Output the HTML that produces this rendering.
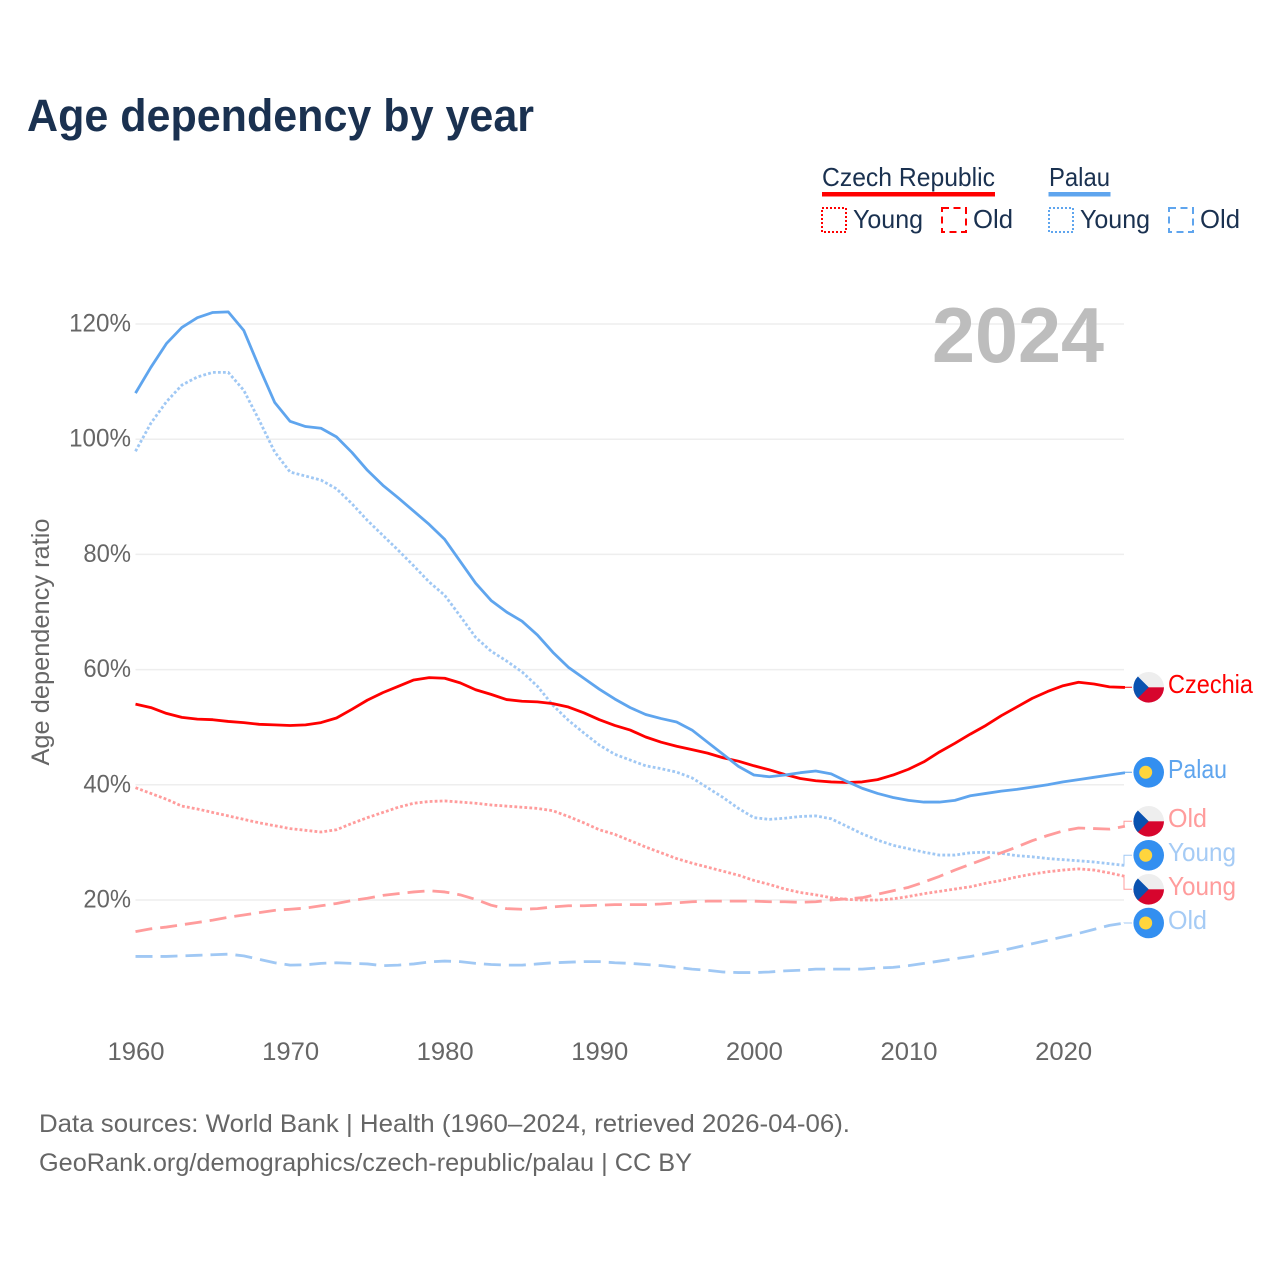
<!DOCTYPE html>
<html lang="en">
<head>
<meta charset="utf-8">
<title>Age dependency by year</title>
<style>
html,body{margin:0;padding:0;background:#fff;}
svg{display:block;font-family:"Liberation Sans",sans-serif;}
</style>
</head>
<body>
<svg id="chart" xmlns="http://www.w3.org/2000/svg" width="1280" height="1280" viewBox="0 0 1280 1280">
  <rect x="0" y="0" width="1280" height="1280" fill="#ffffff"/>
  <text x="27" y="131" font-size="45" font-weight="bold" fill="#1a3150" textLength="507" lengthAdjust="spacingAndGlyphs">Age dependency by year</text>

  <g font-size="26" fill="#1a3150">
    <text x="822" y="186" textLength="173" lengthAdjust="spacingAndGlyphs">Czech Republic</text>
    <rect x="822" y="192" width="173" height="4.5" fill="#ff0000"/>
    <text x="1049" y="186" textLength="61" lengthAdjust="spacingAndGlyphs">Palau</text>
    <rect x="1048.500" y="192" width="62" height="4.500" fill="#5fa5ee"/>

    <rect x="822" y="208" width="24" height="24" fill="none" stroke="#ff0000" stroke-width="2" stroke-dasharray="2 2"/>
    <text x="853" y="228" textLength="70" lengthAdjust="spacingAndGlyphs">Young</text>
    <rect x="942" y="208" width="24" height="24" fill="none" stroke="#ff0000" stroke-width="2" stroke-dasharray="7 4.500"/>
    <text x="973" y="228" textLength="40" lengthAdjust="spacingAndGlyphs">Old</text>

    <rect x="1049" y="208" width="24" height="24" fill="none" stroke="#5fa5ee" stroke-width="2" stroke-dasharray="2 2"/>
    <text x="1080" y="228" textLength="70" lengthAdjust="spacingAndGlyphs">Young</text>
    <rect x="1169" y="208" width="24" height="24" fill="none" stroke="#5fa5ee" stroke-width="2" stroke-dasharray="7 4.500"/>
    <text x="1200" y="228" textLength="40" lengthAdjust="spacingAndGlyphs">Old</text>
  </g>

  <g id="grid"></g>
  <g id="yticks"></g>
  <g id="xticks"></g>

  <text x="932" y="362" font-size="78" font-weight="bold" fill="#bdbdbd" textLength="172" lengthAdjust="spacingAndGlyphs">2024</text>

  <text transform="translate(49,642) rotate(-90)" text-anchor="middle" font-size="25" fill="#666666" textLength="247" lengthAdjust="spacingAndGlyphs">Age dependency ratio</text>

  <g id="series"></g>
  <g id="connectors"></g>

  <defs>
    <clipPath id="flagClip"><circle cx="0" cy="0" r="15.300"/></clipPath>
  </defs>

  <g font-size="26">
    <g transform="translate(1148.700,687.300)" clip-path="url(#flagClip)">
      <rect x="-16" y="-16" width="32" height="16" fill="#eeeeee"/>
      <rect x="-16" y="0" width="32" height="16" fill="#d7052d"/>
      <polygon points="-16,-16 0,0 -16,16" fill="#0a52b0"/>
    </g>
    <text x="1168" y="693" fill="#ff0000" textLength="85" lengthAdjust="spacingAndGlyphs">Czechia</text>

    <g>
      <circle cx="1148.700" cy="772.300" r="15.300" fill="#338ff0"/>
      <circle cx="1145.700" cy="772.300" r="6.500" fill="#ffd53d"/>
    </g>
    <text x="1168" y="778" fill="#5fa5ee" textLength="59" lengthAdjust="spacingAndGlyphs">Palau</text>

    <g transform="translate(1148.700,821.300)" clip-path="url(#flagClip)">
      <rect x="-16" y="-16" width="32" height="16" fill="#eeeeee"/>
      <rect x="-16" y="0" width="32" height="16" fill="#d7052d"/>
      <polygon points="-16,-16 0,0 -16,16" fill="#0a52b0"/>
    </g>
    <text x="1168" y="827" fill="#ff9c9c" textLength="39" lengthAdjust="spacingAndGlyphs">Old</text>

    <g>
      <circle cx="1148.700" cy="855.300" r="15.300" fill="#338ff0"/>
      <circle cx="1145.700" cy="855.300" r="6.500" fill="#ffd53d"/>
    </g>
    <text x="1168" y="861" fill="#a5cbf5" textLength="68" lengthAdjust="spacingAndGlyphs">Young</text>

    <g transform="translate(1148.700,889.300)" clip-path="url(#flagClip)">
      <rect x="-16" y="-16" width="32" height="16" fill="#eeeeee"/>
      <rect x="-16" y="0" width="32" height="16" fill="#d7052d"/>
      <polygon points="-16,-16 0,0 -16,16" fill="#0a52b0"/>
    </g>
    <text x="1168" y="895" fill="#ff9c9c" textLength="68" lengthAdjust="spacingAndGlyphs">Young</text>

    <g>
      <circle cx="1148.700" cy="923" r="15.300" fill="#338ff0"/>
      <circle cx="1145.700" cy="923" r="6.500" fill="#ffd53d"/>
    </g>
    <text x="1168" y="929" fill="#a5cbf5" textLength="39" lengthAdjust="spacingAndGlyphs">Old</text>
  </g>

  <g font-size="25" fill="#666666">
    <text x="39" y="1132" textLength="811" lengthAdjust="spacingAndGlyphs">Data sources: World Bank | Health (1960–2024, retrieved 2026-04-06).</text>
    <text x="39" y="1171" textLength="653" lengthAdjust="spacingAndGlyphs">GeoRank.org/demographics/czech-republic/palau | CC BY</text>
  </g>
</svg>
<script>
const startYear = 1960;
const xTickLabels = [1960, 1970, 1980, 1990, 2000, 2010, 2020];
const yTickLabels = [20, 40, 60, 80, 100, 120];

const czechTotal = [54,53.4,52.4,51.7,51.4,51.3,51,50.8,50.5,50.4,50.3,50.4,50.8,51.6,53.1,54.7,56,57.1,58.2,58.6,58.5,57.7,56.5,55.7,54.8,54.5,54.4,54.1,53.5,52.5,51.3,50.3,49.5,48.3,47.4,46.7,46.1,45.5,44.7,44.1,43.3,42.6,41.8,41.1,40.7,40.5,40.4,40.5,40.9,41.7,42.7,44,45.7,47.2,48.8,50.3,52,53.5,55,56.2,57.2,57.8,57.5,57,56.9];
const palauTotal = [108,112.5,116.6,119.4,121.1,122,122.1,118.9,112.5,106.4,103.1,102.2,101.9,100.4,97.7,94.6,92,89.8,87.5,85.2,82.6,78.8,75,72,70,68.4,66,63,60.4,58.5,56.6,54.9,53.4,52.2,51.5,50.9,49.5,47.4,45.3,43.2,41.7,41.4,41.7,42.1,42.4,41.9,40.6,39.4,38.5,37.8,37.3,37,37,37.3,38.1,38.5,38.9,39.2,39.6,40,40.5,40.9,41.3,41.7,42.1];
const czechYoung = [39.5,38.5,37.5,36.3,35.8,35.2,34.6,34,33.4,32.9,32.4,32.1,31.8,32.2,33.3,34.3,35.2,36.1,36.8,37.1,37.2,37,36.8,36.5,36.3,36.1,35.9,35.5,34.5,33.4,32.2,31.4,30.3,29.2,28.2,27.2,26.4,25.7,25,24.3,23.4,22.7,21.9,21.3,20.9,20.4,20.1,20,20,20.2,20.6,21.1,21.5,21.9,22.3,22.9,23.4,24,24.5,24.9,25.2,25.4,25.2,24.7,24.1];
const czechOld = [14.5,15,15.3,15.7,16.1,16.5,17,17.4,17.8,18.2,18.4,18.6,19,19.4,19.9,20.3,20.8,21.1,21.4,21.6,21.4,20.9,20.1,19.1,18.5,18.4,18.5,18.8,19,19,19.1,19.2,19.2,19.2,19.3,19.5,19.7,19.8,19.8,19.8,19.8,19.7,19.7,19.6,19.7,20,20.2,20.4,21,21.6,22.2,23.1,24.1,25.2,26.2,27.2,28.2,29.2,30.3,31.2,32,32.5,32.4,32.3,32.8];
const palauYoung = [97.9,102.8,106.5,109.4,110.8,111.6,111.6,108.5,103.3,97.8,94.3,93.6,92.9,91.4,88.8,85.9,83.3,80.7,78,75.2,72.9,69.3,65.6,63.2,61.5,59.6,57.1,53.8,51.2,49,46.9,45.3,44.3,43.3,42.8,42.2,41.2,39.5,37.8,35.9,34.3,34,34.2,34.5,34.6,34.1,32.8,31.5,30.4,29.5,28.9,28.3,27.8,27.8,28.2,28.3,28.1,27.7,27.5,27.2,27,26.8,26.6,26.3,26];
const palauOld = [10.2,10.2,10.2,10.3,10.4,10.5,10.6,10.3,9.7,9.1,8.7,8.75,9,9.1,9,8.9,8.6,8.7,8.9,9.25,9.4,9.3,9,8.8,8.7,8.7,8.9,9.1,9.2,9.3,9.3,9.1,9,8.8,8.6,8.3,8,7.8,7.5,7.4,7.4,7.5,7.7,7.8,8,8,8,8,8.2,8.3,8.6,9,9.4,9.8,10.2,10.7,11.2,11.8,12.4,13,13.6,14.2,14.9,15.6,16];

const NS = 'http://www.w3.org/2000/svg';
const xScale = function (year) { return 135.5 + (year - 1960) * 15.46; };
const yScale = function (value) { return 1015.2 - value * 5.76; };

function make(tag, parentId, attrs, content) {
  const el = document.createElementNS(NS, tag);
  Object.keys(attrs).forEach(function (k) { el.setAttribute(k, attrs[k]); });
  if (content !== undefined) el.textContent = content;
  document.getElementById(parentId).appendChild(el);
  return el;
}

yTickLabels.forEach(function (v) {
  const line = make('line', 'grid', { x1: 135.5, x2: 1124, y1: yScale(v), y2: yScale(v), stroke: '#eeeeee', 'stroke-width': 1.5 });
  
  
  const s = v + '%';
  const label = make('text', 'yticks', { x: 131, y: yScale(v) + 7.5, 'text-anchor': 'end', 'font-size': 25, fill: '#666666', textLength: (s.length - 1) * 14.3 + 19, lengthAdjust: 'spacingAndGlyphs' }, s);
  
  
});

xTickLabels.forEach(function (y) {
  const label = make('text', 'xticks', { x: xScale(y) + 0.5, y: 1060, 'text-anchor': 'middle', 'font-size': 25, fill: '#666666', textLength: 57, lengthAdjust: 'spacingAndGlyphs' }, String(y));
  
  
});

function pathFor(values) {
  return values.map(function (v, i) {
    return (i ? 'L' : 'M') + xScale(startYear + i).toFixed(2) + ' ' + yScale(v).toFixed(2);
  }).join('');
}

function drawSeries(values, color, dash, name) {
  const attrs = { d: pathFor(values), fill: 'none', stroke: color, 'stroke-width': 2.8, 'stroke-linejoin': 'round' };
  if (dash) attrs['stroke-dasharray'] = dash;
  const p = make('path', 'series', attrs);
  
  
}

drawSeries(palauOld, '#a0c8f4', '17 8', 'line-palau-old');
drawSeries(palauYoung, '#a0c8f4', '2.8 2.2', 'line-palau-young');
drawSeries(czechOld, '#ff9c9c', '17 8', 'line-czech-old');
drawSeries(czechYoung, '#ff9c9c', '2.8 2.2', 'line-czech-young');
drawSeries(czechTotal, '#ff0000', null, 'line-czech-total');
drawSeries(palauTotal, '#5fa5ee', null, 'line-palau-total');

function drawConnector(values, targetY, color, name) {
  const last = yScale(values[values.length - 1]);
  const p = make('path', 'connectors', { d: 'M1124 ' + last.toFixed(2) + 'H1124V' + targetY + 'H1132', fill: 'none', stroke: color, 'stroke-width': 1 });
  
  
}

drawConnector(czechTotal, 687.3, '#ff0000', 'connector-czech-total');
drawConnector(palauTotal, 772.3, '#5fa5ee', 'connector-palau-total');
drawConnector(czechOld, 821.3, '#ff9c9c', 'connector-czech-old');
drawConnector(palauYoung, 855.3, '#a0c8f4', 'connector-palau-young');
drawConnector(czechYoung, 889.3, '#ff9c9c', 'connector-czech-young');
drawConnector(palauOld, 923, '#a0c8f4', 'connector-palau-old');
</script>
</body>
</html>
